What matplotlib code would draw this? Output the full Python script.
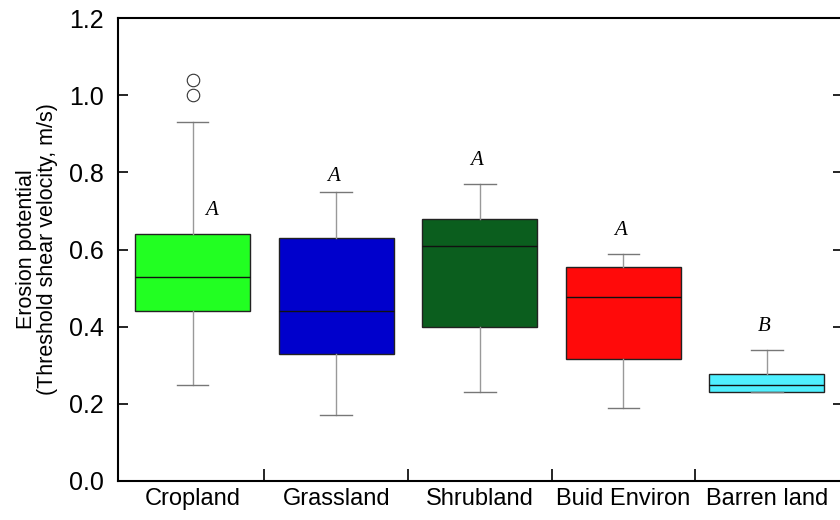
import matplotlib
matplotlib.use("Agg")
import matplotlib.pyplot as plt

# land-use classes and box statistics
categories = ["Cropland", "Grassland", "Shrubland", "Buid Environ", "Barren land"]
whisker_lo = [0.25, 0.17, 0.23, 0.19, 0.23]
q1 = [0.44, 0.33, 0.40, 0.315, 0.23]
median = [0.53, 0.44, 0.61, 0.478, 0.25]
q3 = [0.64, 0.63, 0.68, 0.555, 0.277]
whisker_hi = [0.93, 0.75, 0.77, 0.588, 0.34]
outliers = [[1.00, 1.04], [], [], [], []]
colors = ["#22ff22", "#0000cc", "#0b5e1e", "#ff0a0a", "#4ff0ff"]
letters = ["A", "A", "A", "A", "B"]
letter_y = [0.70, 0.79, 0.83, 0.65, 0.40]
yticks = [0.0, 0.2, 0.4, 0.6, 0.8, 1.0, 1.2]

fig = plt.figure(figsize=(8.4, 5.2), dpi=100)
ax = fig.add_axes([118 / 840, 1 - 481 / 520, 725 / 840, 463 / 520])

stats = []
for i, name in enumerate(categories):
    stats.append(dict(label=name, whislo=whisker_lo[i], q1=q1[i], med=median[i],
                      q3=q3[i], whishi=whisker_hi[i], fliers=outliers[i]))

pos = list(range(len(categories)))
bp = ax.bxp(stats, positions=pos, widths=0.8, patch_artist=True, showfliers=True,
            boxprops=dict(edgecolor="#222222", linewidth=1.0),
            medianprops=dict(color="#111111", linewidth=1.0),
            whiskerprops=dict(color="#999999", linewidth=1.0),
            capprops=dict(color="#777777", linewidth=1.0),
            flierprops=dict(marker="o", markersize=9, markerfacecolor="white",
                            markeredgecolor="#333333", markeredgewidth=0.8),
            capwidths=0.22)
for patch, c in zip(bp["boxes"], colors):
    patch.set_facecolor(c)

offsets = [0.15, 0, 0, 0, 0]
for i, (t, y) in enumerate(zip(letters, letter_y)):
    ax.text(pos[i] + offsets[i] - 0.02, y, t, ha="center", va="center", fontsize=15,
            style="italic", family="Liberation Serif")

ax.set_xlim(-0.52, len(categories) - 0.47)
ax.set_ylim(0, 1.2)
ax.set_yticks(yticks)
ax.set_yticklabels([f"{v:.1f}" for v in yticks], family="Liberation Sans", fontsize=18)
ax.set_xticks(pos)
ax.set_xticklabels(categories, family="Liberation Sans", fontsize=17)
ax.tick_params(axis="x", which="major", length=0, pad=5)
ax.set_xticks([p + 0.5 for p in pos[:-1]], minor=True)
ax.tick_params(axis="x", which="minor", direction="in", length=9, width=1.2)
ax.tick_params(axis="y", direction="in", length=7, width=1.2, right=True, pad=10)
for s in ax.spines.values():
    s.set_linewidth(1.5)

ax.set_ylabel("Erosion potential\n(Threshold shear velocity, m/s)",
              family="Liberation Sans", fontsize=15.5, labelpad=8, linespacing=1.0)

fig.savefig("out.png", dpi=100)
